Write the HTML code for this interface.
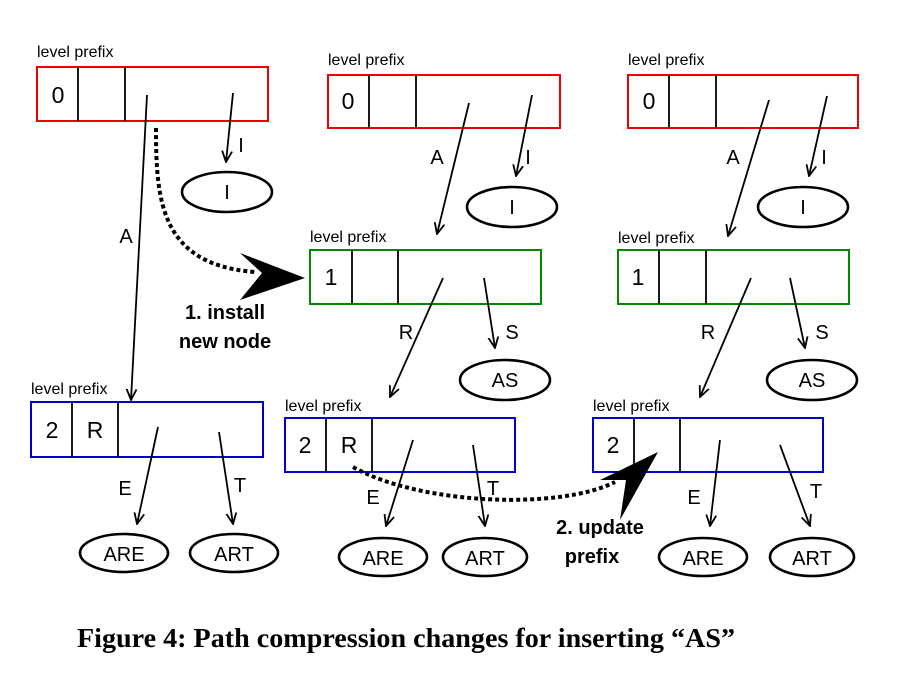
<!DOCTYPE html>
<html><head><meta charset="utf-8"><style>
html,body{margin:0;padding:0;background:#fff;}
svg{display:block;}
text{font-family:"Liberation Sans","DejaVu Sans",sans-serif;fill:#000;}
.lp{font-size:16px;}
.n{font-size:23px;}
.l{font-size:20px;}
.b{font-size:20px;font-weight:bold;}
</style></head><body>
<svg width="908" height="690" viewBox="0 0 908 690" xmlns="http://www.w3.org/2000/svg">
<defs>
<marker id="ah" markerWidth="12" markerHeight="12" refX="11" refY="6" orient="auto" markerUnits="userSpaceOnUse">
<path d="M0,1 L11,6 L0,11" fill="none" stroke="#000" stroke-width="1.8"/>
</marker>
</defs>
<g fill="none" stroke-width="2">
<rect x="37" y="67" width="231" height="54" stroke="#e00"/>
<rect x="31" y="402" width="232" height="55" stroke="#00c"/>
<rect x="328" y="75" width="232" height="53" stroke="#e00"/>
<rect x="310" y="250" width="231" height="54" stroke="#080"/>
<rect x="285" y="418" width="230" height="54" stroke="#00c"/>
<rect x="628" y="75" width="230" height="53" stroke="#e00"/>
<rect x="618" y="250" width="231" height="54" stroke="#080"/>
<rect x="593" y="418" width="230" height="54" stroke="#00c"/>
</g>
<g stroke="#000" stroke-width="1.8" fill="none">
<line x1="78" y1="67" x2="78" y2="121"/><line x1="125" y1="67" x2="125" y2="121"/>
<line x1="72" y1="402" x2="72" y2="457"/><line x1="118" y1="402" x2="118" y2="457"/>
<line x1="369" y1="75" x2="369" y2="128"/><line x1="416" y1="75" x2="416" y2="128"/>
<line x1="352" y1="250" x2="352" y2="304"/><line x1="398" y1="250" x2="398" y2="304"/>
<line x1="326" y1="418" x2="326" y2="472"/><line x1="372" y1="418" x2="372" y2="472"/>
<line x1="669" y1="75" x2="669" y2="128"/><line x1="716" y1="75" x2="716" y2="128"/>
<line x1="659" y1="250" x2="659" y2="304"/><line x1="706" y1="250" x2="706" y2="304"/>
<line x1="634" y1="418" x2="634" y2="472"/><line x1="680" y1="418" x2="680" y2="472"/>
</g>
<g stroke="#000" stroke-width="2.6" fill="none">
<ellipse cx="227" cy="192" rx="45" ry="20"/>
<ellipse cx="124" cy="553" rx="44" ry="19"/>
<ellipse cx="234" cy="553" rx="44" ry="19"/>
<ellipse cx="512" cy="207" rx="45" ry="20"/>
<ellipse cx="505" cy="380" rx="45" ry="20"/>
<ellipse cx="383" cy="557" rx="44" ry="19"/>
<ellipse cx="485" cy="557" rx="42" ry="19"/>
<ellipse cx="803" cy="207" rx="45" ry="20"/>
<ellipse cx="812" cy="380" rx="45" ry="20"/>
<ellipse cx="703" cy="557" rx="44" ry="19"/>
<ellipse cx="812" cy="557" rx="42" ry="19"/>
</g>
<g stroke="#000" stroke-width="1.8" marker-end="url(#ah)">
<line x1="233" y1="93" x2="226" y2="162"/>
<line x1="147" y1="95" x2="131" y2="400"/>
<line x1="158" y1="427" x2="137" y2="524"/>
<line x1="219" y1="432" x2="233" y2="524"/>
<line x1="469" y1="103" x2="437" y2="234"/>
<line x1="532" y1="95" x2="516" y2="176"/>
<line x1="443" y1="278" x2="390" y2="397"/>
<line x1="484" y1="278" x2="495" y2="348"/>
<line x1="413" y1="440" x2="386" y2="526"/>
<line x1="473" y1="445" x2="485" y2="526"/>
<line x1="769" y1="100" x2="728" y2="236"/>
<line x1="827" y1="96" x2="809" y2="176"/>
<line x1="751" y1="278" x2="700" y2="397"/>
<line x1="790" y1="278" x2="805" y2="348"/>
<line x1="720" y1="440" x2="710" y2="526"/>
<line x1="780" y1="445" x2="810" y2="526"/>
</g>
<g stroke="#000" stroke-width="4" stroke-dasharray="4,3" fill="none">
<path d="M156,128 C156,200 160,265 255,272"/>
<path d="M353,467 C420,505 560,510 615,482"/>
</g>
<path d="M305,278 L240,300 L262,273 L240,253 Z" fill="#000"/>
<path d="M658,452 L600,480 L626,480 L620,520 Z" fill="#000"/>
<g class="lp">
<text x="37" y="57">level prefix</text>
<text x="31" y="394">level prefix</text>
<text x="328" y="65">level prefix</text>
<text x="310" y="242">level prefix</text>
<text x="285" y="411">level prefix</text>
<text x="628" y="65">level prefix</text>
<text x="618" y="243">level prefix</text>
<text x="593" y="411">level prefix</text>
</g>
<g class="n" text-anchor="middle">
<text x="58" y="103">0</text>
<text x="52" y="438">2</text><text x="95" y="438">R</text>
<text x="348" y="109">0</text>
<text x="331" y="285">1</text>
<text x="305" y="453">2</text><text x="349" y="453">R</text>
<text x="649" y="109">0</text>
<text x="638" y="285">1</text>
<text x="613" y="453">2</text>
</g>
<g class="l" text-anchor="middle">
<text x="227" y="199">I</text>
<text x="124" y="561">ARE</text><text x="234" y="561">ART</text>
<text x="512" y="214">I</text>
<text x="505" y="387">AS</text>
<text x="383" y="565">ARE</text><text x="485" y="565">ART</text>
<text x="803" y="214">I</text>
<text x="812" y="387">AS</text>
<text x="703" y="565">ARE</text><text x="812" y="565">ART</text>
<text x="241" y="152">I</text><text x="126" y="243">A</text>
<text x="125" y="495">E</text><text x="240" y="492">T</text>
<text x="437" y="164">A</text><text x="528" y="164">I</text>
<text x="406" y="339">R</text><text x="512" y="339">S</text>
<text x="373" y="504">E</text><text x="493" y="495">T</text>
<text x="733" y="164">A</text><text x="824" y="164">I</text>
<text x="708" y="339">R</text><text x="822" y="339">S</text>
<text x="694" y="504">E</text><text x="816" y="498">T</text>
</g>
<g class="b" text-anchor="middle">
<text x="225" y="319">1. install</text>
<text x="225" y="348">new node</text>
<text x="600" y="534">2. update</text>
<text x="592" y="563">prefix</text>
</g>
<text x="77" y="647" textLength="658" lengthAdjust="spacingAndGlyphs" style="font-family:'Liberation Serif',serif;font-weight:bold;font-size:27px">Figure 4: Path compression changes for inserting “AS”</text>
</svg>
</body></html>
